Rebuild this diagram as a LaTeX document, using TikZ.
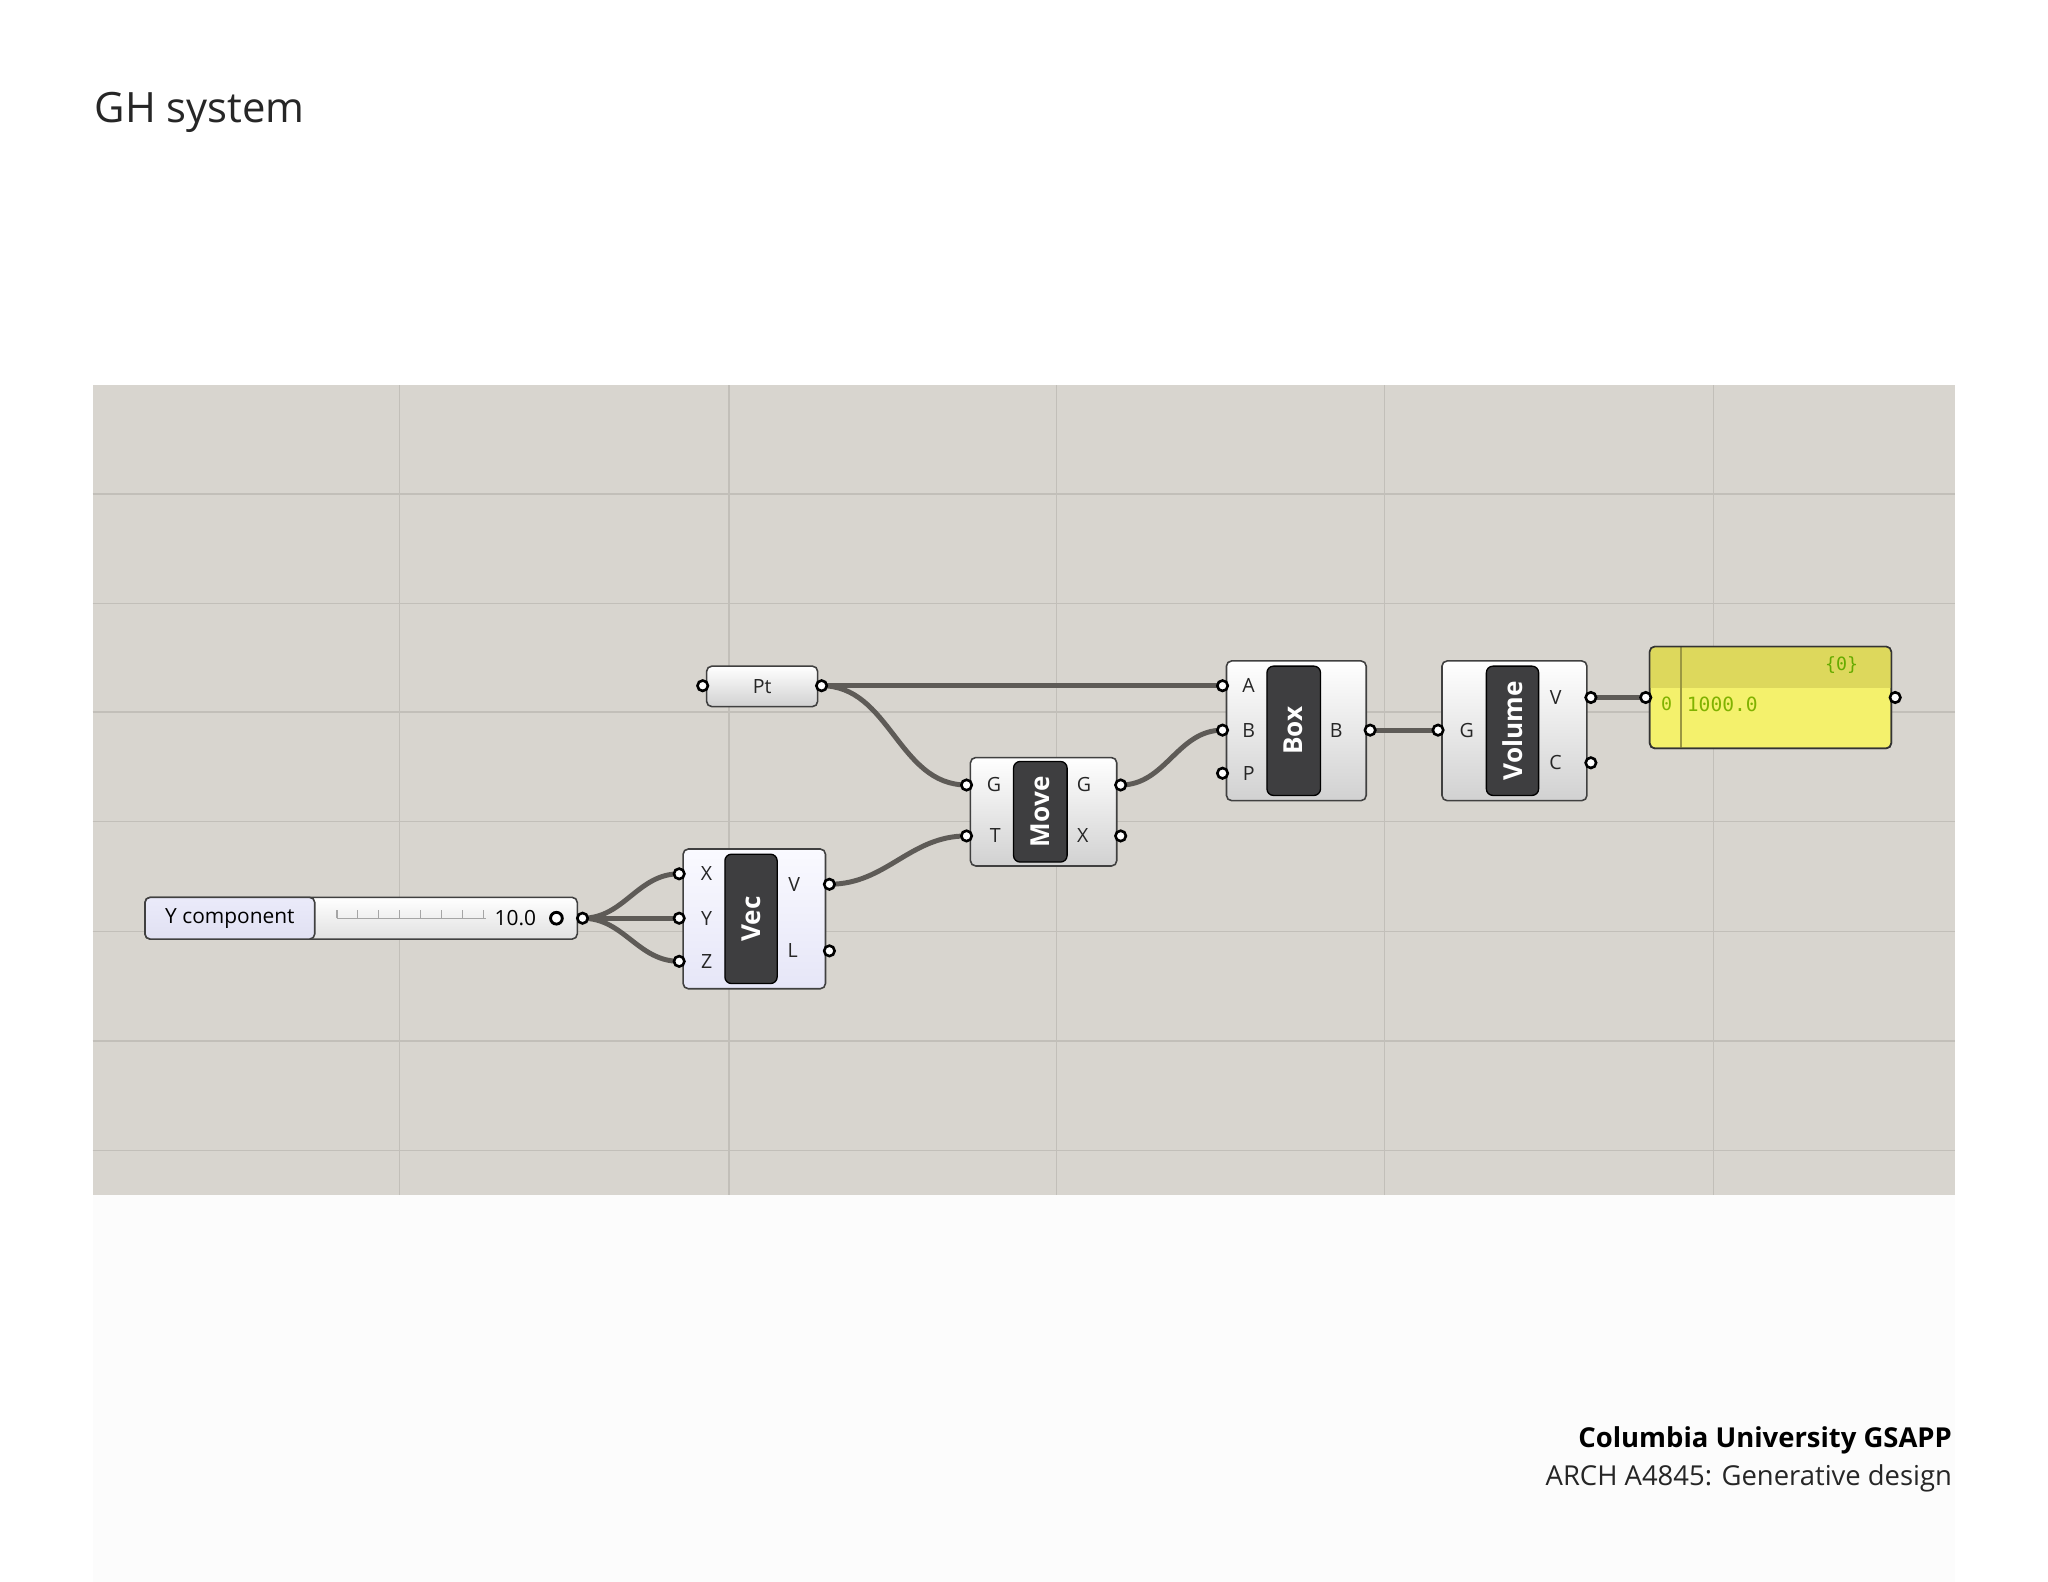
\documentclass[tikz,border=0pt]{standalone}
\usepackage{fontspec}
\setmainfont{Open Sans}
\newfontfamily\monof{DejaVu Sans Mono}
\newfontfamily\ghf{Open Sans}
\usetikzlibrary{positioning}
\definecolor{canvas}{HTML}{D8D5CF}
\definecolor{gridc}{HTML}{C2BFB9}
\definecolor{wirec}{HTML}{5E5B57}
\definecolor{barc}{HTML}{3E3E40}
\definecolor{paneltop}{HTML}{DDD85C}
\definecolor{panelbody}{HTML}{F4F16C}
\tikzset{
  comp/.style={draw=black!75,line width=1.2pt,rounded corners=4pt,top color=white,bottom color=black!18,inner sep=0pt},
  vcomp/.style={draw=black!75,line width=1.2pt,rounded corners=4pt,top color=white!80!blue!10,bottom color=black!30!blue!10,inner sep=0pt},
  bar/.style={draw=black,line width=1pt,rounded corners=5pt,fill=barc,inner sep=0pt},
  bartext/.style={text=white,font=\ghf\bfseries\fontsize{20}{22}\selectfont,rotate=90},
  port/.style={font=\ghf\fontsize{15}{17}\selectfont,text=black!85},
  wire/.style={draw=wirec,line width=3.8pt},
  grip/.style={circle,draw=black,line width=2pt,fill=white,minimum size=8pt,inner sep=0pt}
}
\begin{document}
\begin{tikzpicture}[x=1pt,y=-1pt]
\useasboundingbox (0,0) rectangle (1568,1211);
\fill[white] (0,0) rectangle (1568,1211);
\node[anchor=west,font=\ghf\fontsize{32}{36}\selectfont,text=black!85] (title) at (69,86) {GH system};
\fill[black!1] (71,915) rectangle (1497,1211);
\fill[canvas] (71,295) rectangle (1497,915);
\foreach \x in {306,558,809,1060,1312} \draw[gridc,line width=1.2pt] (\x,295) -- (\x,915);
\foreach \y in {378,462,545,629,713,797,881} \draw[gridc,line width=1.2pt] (71,\y) -- (1497,\y);
\node[anchor=east,font=\ghf\bfseries\fontsize{21}{24}\selectfont] (f1) at (1498,1103) {Columbia University GSAPP};
\node[anchor=east,font=\ghf\fontsize{21}{24}\selectfont,text=black!85] (f2) at (1498,1132) {ARCH A4845: Generative design};

% grips (coordinates)
\coordinate (ptin) at (538,525); \coordinate (ptout) at (629,525);
\coordinate (slout) at (446,703);
\coordinate (vx) at (520,669); \coordinate (vy) at (520,703); \coordinate (vz) at (520,736);
\coordinate (vv) at (635,677); \coordinate (vl) at (635,728);
\coordinate (mg) at (740,601); \coordinate (mt) at (740,640);
\coordinate (mgo) at (858,601); \coordinate (mx) at (858,640);
\coordinate (ba) at (936,525); \coordinate (bb) at (936,559); \coordinate (bp) at (936,592);
\coordinate (bo) at (1049,559);
\coordinate (volg) at (1101,559); \coordinate (volv) at (1218,534); \coordinate (volc) at (1218,584);
\coordinate (pin) at (1260,534); \coordinate (pout) at (1451,534);

% wires
\draw[wire] (ptout) -- (ba);
\draw[wire] (ptout) to[out=0,in=180,looseness=1] (mg);
\draw[wire] (slout) to[out=0,in=180] (vx);
\draw[wire] (slout) -- (vy);
\draw[wire] (slout) to[out=0,in=180] (vz);
\draw[wire] (vv) to[out=0,in=180] (mt);
\draw[wire] (mgo) to[out=0,in=180] (bb);
\draw[wire] (bo) -- (volg);
\draw[wire] (volv) -- (pin);

% Pt
\node[comp,minimum width=85pt,minimum height=31pt] (pt) at (583.5,525.5) {};
\node[port] (ptl) at (pt) {Pt};

% slider
\node[comp,minimum width=331pt,minimum height=32pt,top color=white,bottom color=black!12] (sl) at (276.5,703) {};
\draw[black!75,line width=1.2pt,rounded corners=4pt,top color=black!25!blue!8,bottom color=black!42!blue!12] (111,687) rectangle (241,719);
\node[font=\ghf\fontsize{16}{18}\selectfont] (sll) at (176,703) {Y component};
\draw[black!35,line width=0.8pt] (258,703) -- (372,703);
\foreach \x in {258,274,290,306,322,338,354,370} \draw[black!35,line width=0.8pt] (\x,703) -- (\x,697);
\node[font=\ghf\fontsize{16}{18}\selectfont,anchor=east] (slv) at (414,703) {10.0};
\node[circle,draw=black,line width=2.2pt,fill=white,minimum size=9pt,inner sep=0pt] (knob) at (426,703) {};

% Vec
\node[vcomp,minimum width=109pt,minimum height=107pt] (vec) at (577.5,703.5) {};
\node[bar,minimum width=40pt,minimum height=99pt] (vecbar) at (575,703.5) {};
\node[bartext] (vect) at (575,703.5) {Vec};
\node[port] at (541,669) {X}; \node[port] at (541,703) {Y}; \node[port] at (541,736) {Z};
\node[port] at (608,677) {V}; \node[port] at (607,728) {L};

% Move
\node[comp,minimum width=112pt,minimum height=83pt] (move) at (799,621.5) {};
\node[bar,minimum width=41pt,minimum height=77pt] (movebar) at (796.5,621.5) {};
\node[bartext] (movet) at (796.5,621.5) {Move};
\node[port] at (761,601) {G}; \node[port] at (762,640) {T};
\node[port] at (830,601) {G}; \node[port] at (829,640) {X};

% Box
\node[comp,minimum width=107pt,minimum height=107pt] (box) at (992.5,559.5) {};
\node[bar,minimum width=41pt,minimum height=99pt] (boxbar) at (990.5,559.5) {};
\node[bartext] (boxt) at (990.5,559.5) {Box};
\node[port] at (956,525) {A}; \node[port] at (956,559) {B}; \node[port] at (956,592) {P};
\node[port] at (1023,559) {B};

% Volume
\node[comp,minimum width=111pt,minimum height=107pt] (vol) at (1159.5,559.5) {};
\node[bar,minimum width=40pt,minimum height=99pt] (volbar) at (1158,559.5) {};
\node[bartext] (volt) at (1158,559.5) {Volume};
\node[port] at (1123,559) {G};
\node[port] at (1191,534) {V}; \node[port] at (1191,584) {C};

% Panel
\node[draw=black!80,line width=1.2pt,rounded corners=4pt,fill=panelbody,minimum width=185pt,minimum height=78pt,inner sep=0pt] (panel) at (1355.5,534) {};
\begin{scope}
\clip[rounded corners=4pt] (1263,495) rectangle (1448,573);
\fill[paneltop] (1263,495) rectangle (1448,527);
\draw[black!30!paneltop,line width=0.8pt] (1287,495) -- (1287,573);
\end{scope}
\draw[black!80,line width=1.2pt,rounded corners=4pt] (1263,495) rectangle (1448,573);
\node[font=\monof\fontsize{14}{16}\selectfont,text=black!55!green!60!yellow] (pidx) at (1410,509) {\{0\}};
\node[font=\monof\fontsize{14}{16}\selectfont,text=black!60!green!50!yellow] (p0) at (1276,539) {0};
\node[font=\monof\fontsize{15}{17}\selectfont,text=black!60!green!50!yellow,anchor=west] (pval) at (1288,539) {1000.0};

% grips
\foreach \g in {ptin,ptout,slout,vx,vy,vz,vv,vl,mg,mt,mgo,mx,ba,bb,bp,bo,volg,volv,volc,pin,pout}
  \node[grip] at (\g) {};
\end{tikzpicture}
\end{document}
